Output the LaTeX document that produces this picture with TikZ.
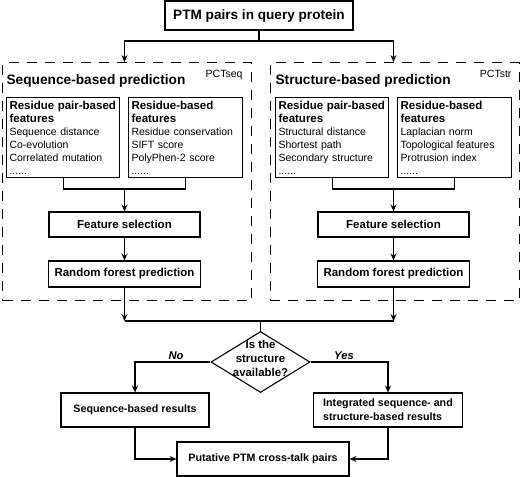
\documentclass[tikz,border=0pt]{standalone}
\usepackage{fontspec}
\setmainfont{Liberation Sans}
\usetikzlibrary{shapes.geometric,arrows.meta}
\newcommand\hb[1]{{\fontsize{11.5}{13}\selectfont\bfseries #1}}
\begin{document}
\begin{tikzpicture}[x=1pt,y=-1pt,
  line width=1.1pt,
  arr/.style={-{Stealth[length=7pt,width=6pt,inset=2.5pt]}},
  box/.style={draw, rectangle, inner sep=0pt, font=\fontsize{11.5}{13}\selectfont\bfseries},
  rbox/.style={draw, rectangle, inner sep=0pt, align=left, font=\fontsize{10.7}{14}\selectfont\bfseries},
  dbox/.style={draw, rectangle, inner sep=0pt, dash pattern=on 10pt off 8pt, anchor=north west, minimum width=249pt, minimum height=238pt},
  ibox/.style={draw, rectangle, anchor=north west, inner sep=3pt, align=left, minimum height=80pt, font=\fontsize{10.5}{13}\selectfont},
  tag/.style={anchor=base east, inner sep=0pt, font=\fontsize{10.5}{12}\selectfont},
  head/.style={anchor=base west, inner sep=0pt, font=\fontsize{13.7}{16}\selectfont\bfseries},
  lbl/.style={anchor=base, inner sep=0pt, font=\fontsize{11.2}{13}\selectfont\bfseries\itshape}
]
\useasboundingbox (0,0) rectangle (520,477);

% top
\node[box, minimum width=188pt, minimum height=29pt, font=\fontsize{13.6}{16}\selectfont\bfseries] (top) at (259,15.5) {PTM pairs in query protein};
\coordinate (j1) at (259,41);

% left: sequence
\node[dbox] (seqbox) at (2,62) {};
\node[tag] (pctseq) at (243,77) {PCTseq};
\node[head] (h1) at (6,84) {Sequence-based prediction};
\node[ibox, text width=107pt] (s1) at (6,97) {\hb{\mbox{Residue pair-based}}\\\hb{features}\\Sequence distance\\Co-evolution\\Correlated mutation\\......};
\node[ibox, text width=108pt] (s2) at (128,97) {\hb{\mbox{Residue-based}}\\\hb{features}\\Residue conservation\\SIFT score\\PolyPhen-2 score\\......};
\node[box, minimum width=151pt, minimum height=25pt] (fs1) at (124.5,224.5) {Feature selection};
\node[box, minimum width=152pt, minimum height=26pt] (rf1) at (124.5,274) {Random forest prediction};
\coordinate (m1) at (124.5,189);

% right: structure
\node[dbox] (strbox) at (269.5,62) {};
\node[tag] (pctstr) at (512,77) {PCTstr};
\node[head] (h2) at (275,84) {Structure-based prediction};
\node[ibox, text width=107pt] (s3) at (275,97) {\hb{\mbox{Residue pair-based}}\\\hb{features}\\Structural distance\\Shortest path\\Secondary structure\\......};
\node[ibox, text width=108pt] (s4) at (397,97) {\hb{\mbox{Residue-based}}\\\hb{features}\\Laplacian norm\\Topological features\\Protrusion index\\......};
\node[box, minimum width=151pt, minimum height=25pt] (fs2) at (393.5,224.5) {Feature selection};
\node[box, minimum width=152pt, minimum height=26pt] (rf2) at (393.5,274) {Random forest prediction};
\coordinate (m2) at (393.5,189);

% decision
\coordinate (j2) at (260.5,321);
\node[diamond, draw, minimum width=99pt, minimum height=61pt, inner sep=0pt] (dia) at (260.5,362) {};
\node[align=center, inner sep=0pt, font=\fontsize{11.4}{14}\selectfont\bfseries] (q) at (260.5,358) {Is the\\structure\\available?};
\node[lbl] (no) at (176,359) {No};
\node[lbl] (yes) at (344,359) {Yes};

% results
\node[rbox, minimum width=148pt, minimum height=34pt] (sr) at (135,410) {Sequence-based results};
\node[rbox, minimum width=149pt, minimum height=34pt] (ir) at (388,410) {Integrated sequence- and\\structure-based results};
\node[rbox, minimum width=172pt, minimum height=34pt] (put) at (263,459) {Putative PTM cross-talk pairs};

% connectors
\draw (top.south) -- (j1);
\draw[arr] (j1) -| (fs1.north |- seqbox.north);
\draw[arr] (j1) -| (fs2.north |- strbox.north);

\draw (s1.south) |- (m1) -| (s2.south);
\draw[arr] (m1) -- (m1 |- fs1.north);
\draw[arr] (fs1.south) -- (rf1.north);

\draw (s3.south) |- (m2) -| (s4.south);
\draw[arr] (m2) -- (m2 |- fs2.north);
\draw[arr] (fs2.south) -- (rf2.north);

\draw[arr] (rf1.south) -- (rf1.south |- j2);
\draw[arr] (rf2.south) -- (rf2.south |- j2);
\draw (rf1.south |- j2) -- (rf2.south |- j2);
\draw (j2) -- (dia.north);

\draw[arr] (dia.west) -| (sr.north);
\draw[arr] (dia.east) -| (ir.north);
\draw[arr] (sr.south) |- (put.west);
\draw[arr] (ir.south) |- (put.east);
\end{tikzpicture}
\end{document}
